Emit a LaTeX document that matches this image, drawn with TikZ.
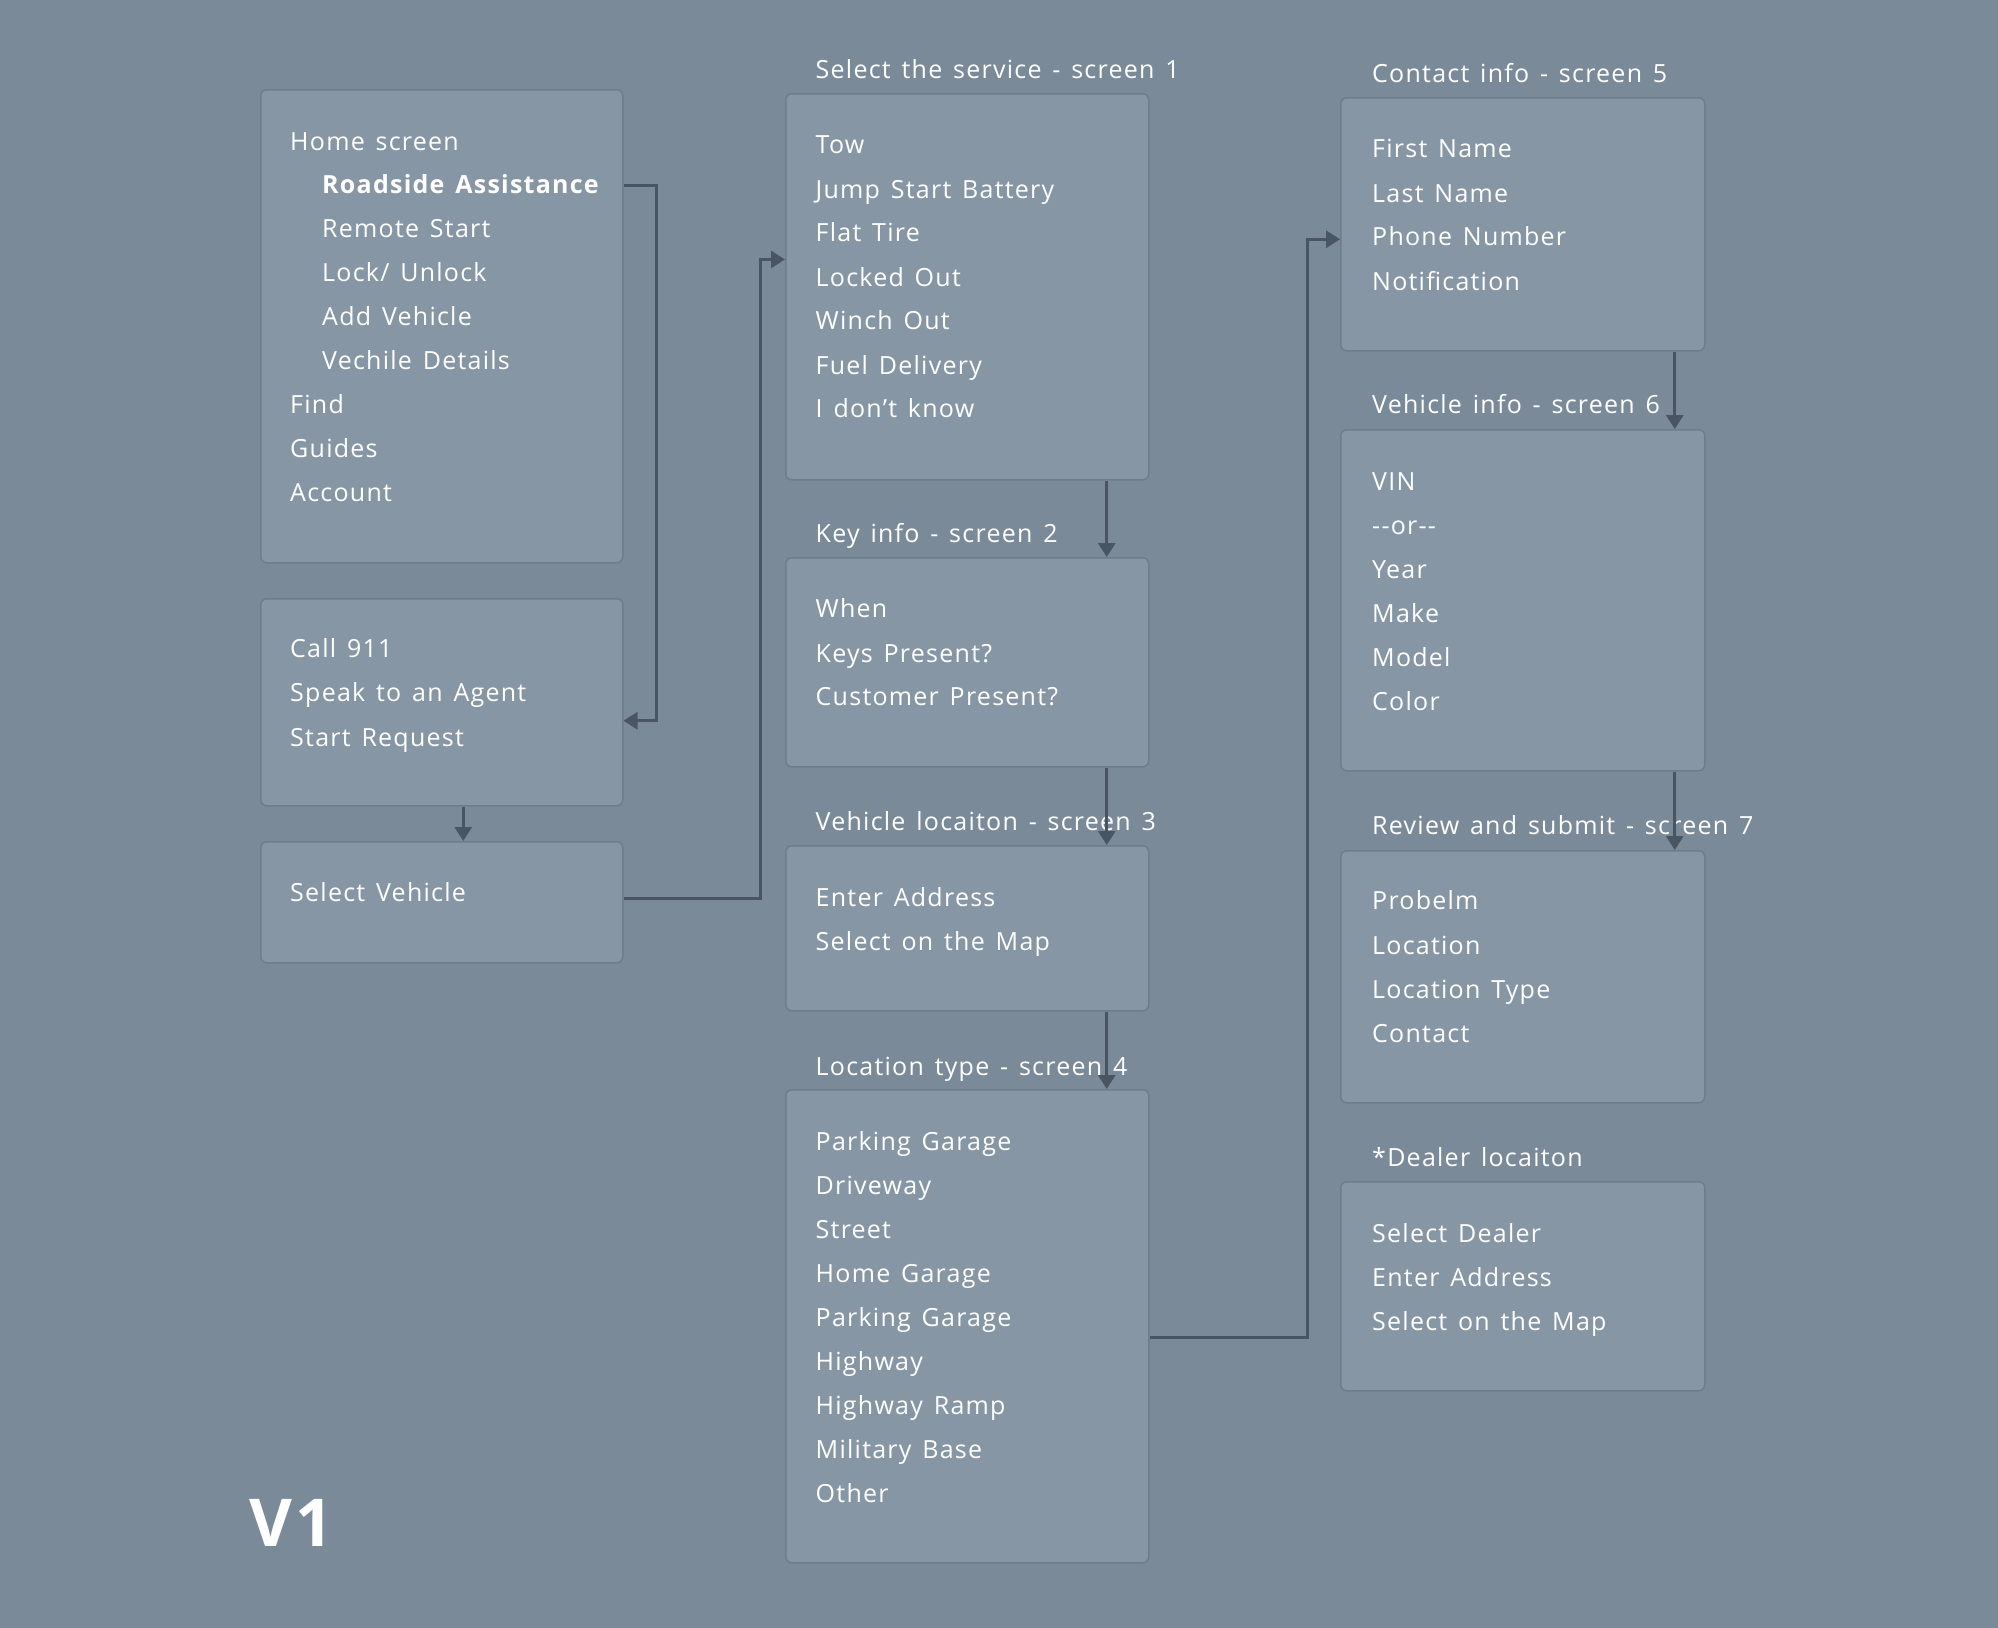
\documentclass[tikz,border=0pt]{standalone}
\usepackage{fontspec}
\setmainfont{Open Sans}[LetterSpace=5, WordSpace=1.4]
\usetikzlibrary{arrows.meta}
\definecolor{bg}{HTML}{7A8A99}
\definecolor{boxfill}{HTML}{8696A4}
\definecolor{boxline}{HTML}{6D7D8C}
\definecolor{conncol}{HTML}{4A5563}
\tikzset{
  box/.style={draw=boxline, fill=boxfill, line width=1.5pt, rounded corners=6pt, anchor=north west, inner sep=0pt},
  item/.style={anchor=mid west, inner sep=0pt, yshift=-6pt, text=white, font=\fontsize{25}{30}\selectfont},
  bitem/.style={item, font=\fontsize{25}{30}\selectfont\bfseries},
  conn/.style={draw=conncol, line width=3pt, -{Triangle[width=17pt,length=14pt]}},
}
\begin{document}
\begin{tikzpicture}[x=1pt,y=-1pt]
\path[fill=bg] (0,0) rectangle (1998,1628);

% ---- left column
\node[box, minimum width=362pt, minimum height=473pt] (home) at (260,89) {};
\node[item] (t-home) at (290,141.4) {Home screen};
\node[bitem] (ra) at (322,184.8) {Roadside Assistance};
\node[item] (t-rs) at (322,229.3) {Remote Start};
\node[item] (t-lu) at (322,272.7) {Lock/ Unlock};
\node[item] (t-av) at (322,317.3) {Add Vehicle};
\node[item] (t-vd) at (322,360.6) {Vechile Details};
\node[item] (t-find) at (290,405.2) {Find};
\node[item] (t-guides) at (290,448.5) {Guides};
\node[item] (t-acc) at (290,493.1) {Account};

\node[box, minimum width=362pt, minimum height=207pt] (call) at (260,598) {};
\node[item] (t-911) at (290,648.6) {Call 911};
\node[item] (t-agent) at (290,693.2) {Speak to an Agent};
\node[item] (t-req) at (290,737.8) {Start Request};

\node[box, minimum width=362pt, minimum height=121pt] (sel) at (260,841) {};
\node[item] (t-sel) at (290,893.2) {Select Vehicle};

\node[anchor=base west, inner sep=0pt, text=white, font=\fontsize{66}{70}\selectfont\bfseries] (v1) at (249,1546) {V1};

% ---- middle column
\node[item] (h1) at (815.5,70) {Select the service - screen 1};
\node[box, minimum width=363pt, minimum height=386pt] (s1) at (785,93) {};
\node[item] (t-tow) at (815.5,145.3) {Tow};
\node[item] (t-jump) at (815.5,189.9) {Jump Start Battery};
\node[item] (t-flat) at (815.5,233.2) {Flat Tire};
\node[item] (t-lock) at (815.5,277.8) {Locked Out};
\node[item] (t-winch) at (815.5,321.1) {Winch Out};
\node[item] (t-fuel) at (815.5,365.7) {Fuel Delivery};
\node[item] (t-idk) at (815.5,409) {I don’t know};

\node[item] (h2) at (815.5,533.9) {Key info - screen 2};
\node[box, minimum width=363pt, minimum height=209pt] (s2) at (785,557) {};
\node[item] (t-when) at (815.5,609.1) {When};
\node[item] (t-keys) at (815.5,653.7) {Keys Present?};
\node[item] (t-cust) at (815.5,697) {Customer Present?};

\node[item] (h3) at (815.5,821.9) {Vehicle locaiton - screen 3};
\node[box, minimum width=363pt, minimum height=165pt] (s3) at (785,845) {};
\node[item] (t-addr) at (815.5,898.3) {Enter Address};
\node[item] (t-map) at (815.5,941.6) {Select on the Map};

\node[item] (h4) at (815.5,1066.5) {Location type - screen 4};
\node[box, minimum width=363pt, minimum height=473pt] (s4) at (785,1089) {};
\node[item] (t-pg) at (815.5,1141.7) {Parking Garage};
\node[item] (t-dw) at (815.5,1186.3) {Driveway};
\node[item] (t-st) at (815.5,1229.6) {Street};
\node[item] (t-hg) at (815.5,1274.2) {Home Garage};
\node[item] (t-pg2) at (815.5,1317.5) {Parking Garage};
\node[item] (t-hw) at (815.5,1362.1) {Highway};
\node[item] (t-hr) at (815.5,1405.4) {Highway Ramp};
\node[item] (t-mb) at (815.5,1450) {Military Base};
\node[item] (t-oth) at (815.5,1493.4) {Other};

% ---- right column
\node[item] (h5) at (1372,73.9) {Contact info - screen 5};
\node[box, minimum width=364pt, minimum height=253pt] (s5) at (1340,97) {};
\node[item] (t-fn) at (1372,149.1) {First Name};
\node[item] (t-ln) at (1372,193.7) {Last Name};
\node[item] (t-ph) at (1372,237) {Phone Number};
\node[item] (t-not) at (1372,281.6) {Notification};

\node[item] (h6) at (1372,405.2) {Vehicle info - screen 6};
\node[box, minimum width=364pt, minimum height=341pt] (s6) at (1340,429) {};
\node[item] (t-vin) at (1372,481.7) {VIN};
\node[item] (t-or) at (1372,526.2) {-{}-or-{}-};
\node[item] (t-year) at (1372,569.6) {Year};
\node[item] (t-make) at (1372,614.2) {Make};
\node[item] (t-model) at (1372,657.5) {Model};
\node[item] (t-color) at (1372,702.1) {Color};

\node[item] (h7) at (1372,825.7) {Review and submit - screen 7};
\node[box, minimum width=364pt, minimum height=252pt] (s7) at (1340,850) {};
\node[item] (t-prob) at (1372,900.9) {Probelm};
\node[item] (t-loc) at (1372,945.5) {Location};
\node[item] (t-lt) at (1372,990.1) {Location Type};
\node[item] (t-con) at (1372,1033.4) {Contact};

\node[item] (h8) at (1372,1158.3) {*Dealer locaiton};
\node[box, minimum width=364pt, minimum height=209pt] (dl) at (1340,1181) {};
\node[item] (t-sd) at (1372,1233.4) {Select Dealer};
\node[item] (t-ea) at (1372,1278) {Enter Address};
\node[item] (t-sm) at (1372,1321.4) {Select on the Map};

% ---- connectors
\draw[conn] (home.east |- ra.center) ++(0,1.5) -- ++(33,0) |- ([yshift=-18.5pt]call.east);
\draw[conn] ([xshift=21.5pt]call.south) -- ([xshift=21.5pt]sel.north);
\draw[conn] ([yshift=3.5pt]sel.east) -- ++(137.4,0) |- ([yshift=27.3pt]s1.west);
\draw[conn] ([xshift=139.5pt]s1.south) -- ([xshift=139.5pt]s2.north);
\draw[conn] ([xshift=139.5pt]s2.south) -- ([xshift=139.5pt]s3.north);
\draw[conn] ([xshift=139.5pt]s3.south) -- ([xshift=139.5pt]s4.north);
\draw[conn] ([yshift=-11.1pt]s4.east) -- ++(158,0) |- ([yshift=-15pt]s5.west);
\draw[conn] ([xshift=152pt]s5.south) -- ([xshift=152pt]s6.north);
\draw[conn] ([xshift=152pt]s6.south) -- ([xshift=152pt]s7.north);
\end{tikzpicture}
\end{document}
